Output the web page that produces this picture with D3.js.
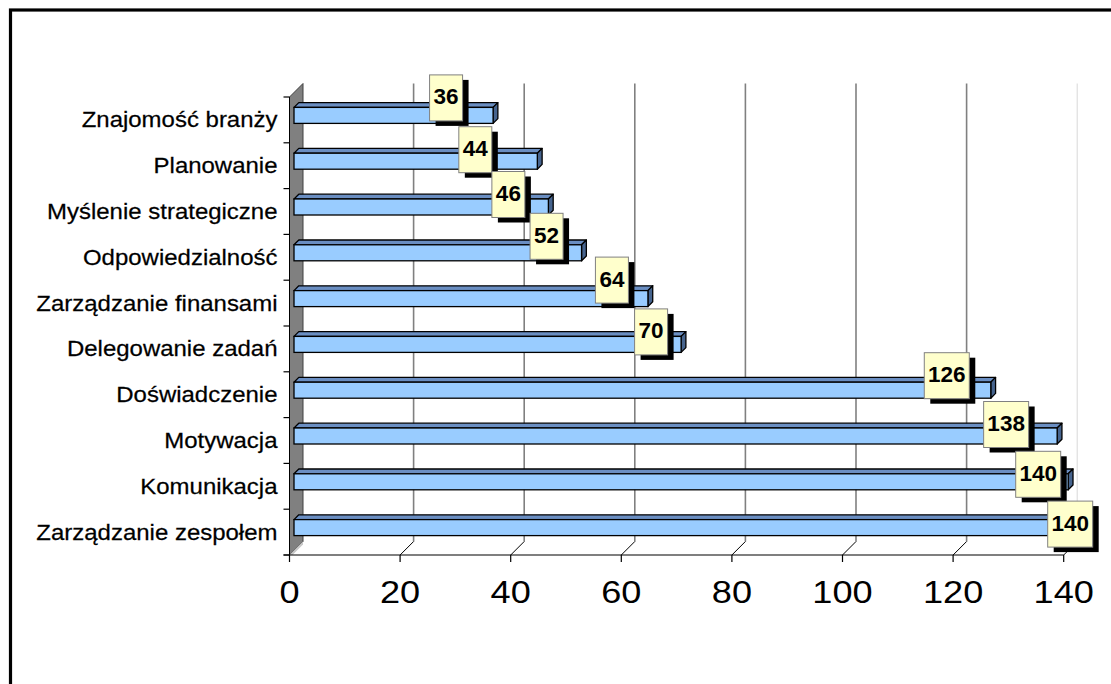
<!DOCTYPE html>
<html>
<head>
<meta charset="utf-8">
<script src="https://cdn.jsdelivr.net/npm/d3@7"></script>
<style>
  html, body { margin: 0; padding: 0; background: #fff; }
  svg { display: block; }
</style>
</head>
<body>
<svg id="chart" width="1111" height="684"></svg>
<script>
// Skills named by respondents (top to bottom) and the number of mentions
const categories = [
  "Znajomość branży",
  "Planowanie",
  "Myślenie strategiczne",
  "Odpowiedzialność",
  "Zarządzanie finansami",
  "Delegowanie zadań",
  "Doświadczenie",
  "Motywacja",
  "Komunikacja",
  "Zarządzanie zespołem"
];
const counts = [36, 44, 46, 52, 64, 70, 126, 138, 140, 140];
const tickValues = [0, 20, 40, 60, 80, 100, 120, 140];

// Hand-placed offsets of the value callouts (px, from the bar end / row centre)
const calloutDx = [-47, -62, -40, -35, -36, -30, -44, -51, -30, 2];
const calloutDy = [-22, -16, -17, -21, -23, -17, -19, -16, -12, -8];

// ---- layout ----
const front = { left: 289.5, top: 97, bottom: 555 };
const depth = 13.5;           // oblique depth of the plot box
const barOff = 4.5;           // bar front face sits this far into the box
const barDepth = 4.8;         // thickness of each bar
const barH = 16;
const font = "'Liberation Sans', Arial, sans-serif";

const svg = d3.select("#chart");

const x = d3.scaleLinear().domain([0, 140]).range([front.left, front.left + 774.2]);
const y = d3.scaleBand().domain(categories).range([front.top, front.bottom]).padding(0);

// chart border
svg.append("rect")
  .attr("x", 10.5).attr("y", 10).attr("width", 1300).attr("height", 900)
  .attr("fill", "none").attr("stroke", "#000").attr("stroke-width", 3.2);

// back wall gridlines
const grid = svg.append("g");
grid.selectAll("line.grid")
  .data(tickValues.filter(d => d > 0))
  .join("line")
  .attr("class", "grid")
  .attr("x1", d => x(d) + depth).attr("x2", d => x(d) + depth)
  .attr("y1", front.top - depth).attr("y2", front.bottom - depth)
  .attr("stroke", d => d === 140 ? "#d8d8d8" : "#808080")
  .attr("stroke-width", d => d === 140 ? 1 : 1.6);

// floor: oblique ticks from wall to front edge
grid.selectAll("line.floor")
  .data(tickValues.filter(d => d > 0))
  .join("line")
  .attr("class", "floor")
  .attr("x1", d => x(d) + depth).attr("y1", front.bottom - depth)
  .attr("x2", d => x(d)).attr("y2", front.bottom)
  .attr("stroke", "#000").attr("stroke-width", 1);

// side wall
svg.append("path")
  .attr("d", `M${front.left},${front.top} L${front.left + depth},${front.top - depth}
              L${front.left + depth},${front.bottom - depth} L${front.left},${front.bottom} Z`)
  .attr("fill", "#808080").attr("stroke", "#404040").attr("stroke-width", 1);
svg.append("path")
  .attr("d", `M${front.left},${front.bottom} L${front.left + depth},${front.bottom - depth}
              L${front.left + depth},${front.bottom - depth + 3} L${front.left + 3},${front.bottom} Z`)
  .attr("fill", "#c8c8c8");

// front floor edge + value axis ticks
svg.append("line")
  .attr("x1", front.left - 6).attr("x2", x(140))
  .attr("y1", front.bottom).attr("y2", front.bottom)
  .attr("stroke", "#000").attr("stroke-width", 1.2);
svg.selectAll("line.xtick")
  .data(tickValues)
  .join("line")
  .attr("class", "xtick")
  .attr("x1", d => x(d)).attr("x2", d => x(d))
  .attr("y1", front.bottom).attr("y2", front.bottom + 7)
  .attr("stroke", "#000").attr("stroke-width", 1.2);
svg.selectAll("text.xlab")
  .data(tickValues)
  .join("text")
  .attr("class", "xlab")
  .attr("transform", d => `translate(${x(d)},603) scale(1.13,1)`)
  .attr("text-anchor", "middle")
  .attr("font-family", font)
  .attr("font-size", 32)
  .attr("fill", "#000")
  .text(d => d);

// category axis ticks
const catEdges = categories.map(c => y(c)).concat([front.bottom]);
svg.selectAll("line.ytick")
  .data(catEdges)
  .join("line")
  .attr("class", "ytick")
  .attr("x1", front.left - 6).attr("x2", front.left)
  .attr("y1", d => d).attr("y2", d => d)
  .attr("stroke", "#000").attr("stroke-width", 1.2);
svg.append("line")
  .attr("x1", front.left).attr("x2", front.left)
  .attr("y1", front.top).attr("y2", front.bottom)
  .attr("stroke", "#000").attr("stroke-width", 1);

// category labels
svg.selectAll("text.ylab")
  .data(categories)
  .join("text")
  .attr("class", "ylab")
  .attr("transform", d => `translate(277.5,${y(d) + y.bandwidth() / 2 + 7.5}) scale(1.09,1)`)
  .attr("text-anchor", "end")
  .attr("font-family", font)
  .attr("font-size", 22)
  .attr("fill", "#000")
  .attr("stroke", "#000").attr("stroke-width", 0.25)
  .text(d => d);

// 3-D bars
const rows = categories.map((c, i) => ({ cat: c, value: counts[i], i }));
const bars = svg.append("g").selectAll("g.bar").data(rows).join("g").attr("class", "bar");

function faces(d) {
  const x0 = x(0) + barOff, x1 = x(d.value) + barOff;
  const yc = y(d.cat) + y.bandwidth() / 2 - barOff;
  return { x0, x1, yt: yc - barH / 2, yb: yc + barH / 2 };
}
bars.append("path") // top face
  .attr("d", d => {
    const f = faces(d);
    return `M${f.x0},${f.yt} L${f.x1},${f.yt} L${f.x1 + barDepth},${f.yt - barDepth} L${f.x0 + barDepth},${f.yt - barDepth} Z`;
  })
  .attr("fill", "#6A8EC2").attr("stroke", "#000").attr("stroke-width", 1.3).attr("stroke-linejoin", "round");
bars.append("path") // end face
  .attr("d", d => {
    const f = faces(d);
    return `M${f.x1},${f.yt} L${f.x1 + barDepth},${f.yt - barDepth} L${f.x1 + barDepth},${f.yb - barDepth} L${f.x1},${f.yb} Z`;
  })
  .attr("fill", "#46648E").attr("stroke", "#000").attr("stroke-width", 1.3).attr("stroke-linejoin", "round");
bars.append("rect") // front face
  .attr("x", d => faces(d).x0).attr("y", d => faces(d).yt)
  .attr("width", d => faces(d).x1 - faces(d).x0).attr("height", barH)
  .attr("fill", "#99CCFF").attr("stroke", "#000").attr("stroke-width", 1.3);

// value callouts
const callouts = svg.append("g").selectAll("g.callout").data(rows).join("g")
  .attr("class", "callout")
  .attr("transform", d => {
    const cx = x(d.value) + barOff + calloutDx[d.i];
    const cy = y(d.cat) + y.bandwidth() / 2 + calloutDy[d.i];
    return `translate(${cx},${cy})`;
  });
const boxW = d => String(d.value).length === 3 ? 45 : 33;
const boxH = 46;
callouts.append("rect")
  .attr("x", d => -boxW(d) / 2 + 6).attr("y", -boxH / 2 + 5)
  .attr("width", boxW).attr("height", boxH)
  .attr("fill", "#000");
callouts.append("rect")
  .attr("x", d => -boxW(d) / 2).attr("y", -boxH / 2)
  .attr("width", boxW).attr("height", boxH)
  .attr("fill", "#FFFFCC").attr("stroke", "#808080").attr("stroke-width", 1);
callouts.append("text")
  .attr("x", 0).attr("y", 6.5)
  .attr("text-anchor", "middle")
  .attr("font-family", font)
  .attr("font-weight", "bold")
  .attr("font-size", 22.5)
  .attr("fill", "#000")
  .text(d => d.value);
</script>
</body>
</html>
